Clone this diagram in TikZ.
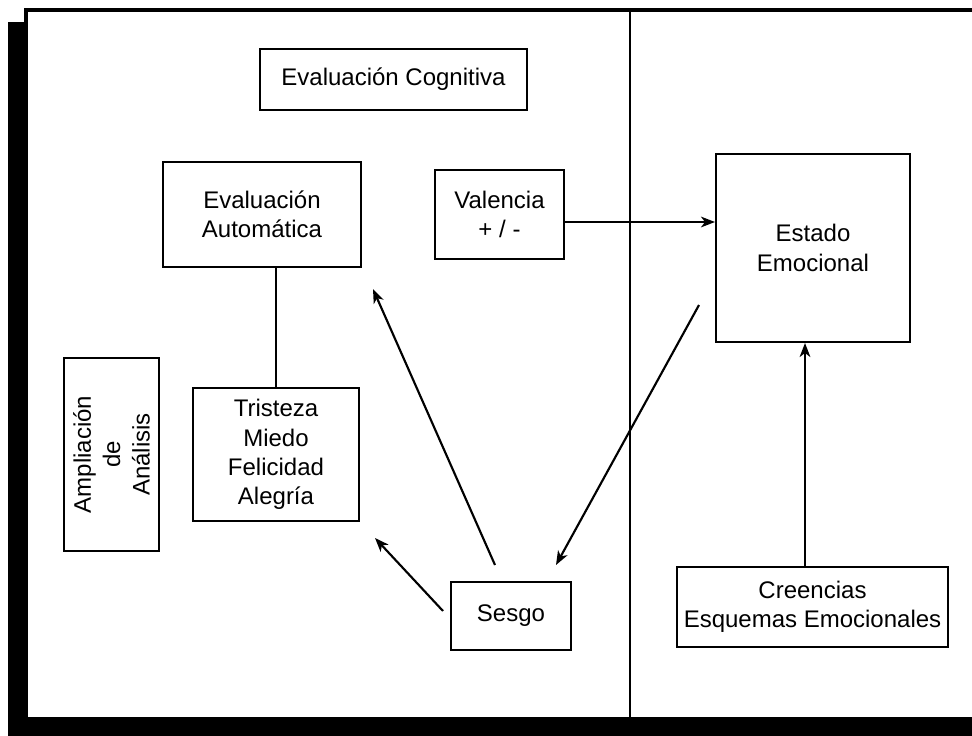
\documentclass[tikz,border=0pt]{standalone}
\usepackage{fontspec}
\setmainfont{Liberation Sans}
\usetikzlibrary{arrows.meta}
\begin{document}
\begin{tikzpicture}[x=0.75pt,y=-0.75pt,
  box/.style={draw, line width=1.5pt, inner sep=0pt, align=center,
              font=\fontsize{18}{22}\selectfont},
  link/.style={line width=1.6pt},
  arr/.style={line width=1.6pt, -{Stealth[length=10.5pt,width=8pt,inset=3pt]}}]
\useasboundingbox (0,0) rectangle (972,736);

% page frame and the dividing rule
\fill (8,22) rectangle (28,736);
\fill (8,717) rectangle (972,736);
\draw[line width=3pt] (24,9.5) -- (972,9.5);
\draw[line width=3pt] (26,8) -- (26,24);
\draw[line width=2.2pt] (630,9) -- (630,717);

% boxes
\node[box, minimum width=200.25pt, minimum height=45.75pt] (cog) at (393.5,79.5) {Evaluación Cognitiva};
\node[box, minimum width=148.5pt, minimum height=78.75pt] (ea) at (262,214.5) {Evaluación\\Automática};
\node[box, minimum width=96.75pt, minimum height=66.75pt] (val) at (499.5,214.5) {Valencia\\+ / -};
\node[box, minimum width=145.5pt, minimum height=141pt] (est) at (813,248) {Estado\\Emocional};
\node[box, rotate=90, minimum width=144.75pt, minimum height=71.25pt] (amp) at (111.5,454.5) {Ampliación\\de\\Análisis};
\node[box, minimum width=124.5pt, minimum height=99.75pt] (tri) at (276,454.5) {Tristeza\\Miedo\\Felicidad\\Alegría};
\node[box, minimum width=90pt, minimum height=51pt] (ses) at (511,616) {Sesgo};
\node[box, minimum width=203.25pt, minimum height=60pt] (cre) at (812.5,607) {Creencias\\Esquemas Emocionales};

% anchor points of the free-standing arrows
\coordinate (vy) at (0,222);
\coordinate (cx) at (805,0);
\coordinate (s1) at (495,565);
\coordinate (e1) at (373,289);
\coordinate (s2) at (443,611);
\coordinate (t2) at (375,538);
\coordinate (e3) at (699,305);
\coordinate (s3) at (556,565);

% connectors
\draw[link] (tri.north) -- (tri.north |- ea.south);
\draw[arr] (val.east |- vy) -- (est.west |- vy);
\draw[arr] (cre.north -| cx) -- (est.south -| cx);
\draw[arr] (s1) -- (e1);
\draw[arr] (s2) -- (t2);
\draw[arr] (e3) -- (s3);
\end{tikzpicture}
\end{document}
